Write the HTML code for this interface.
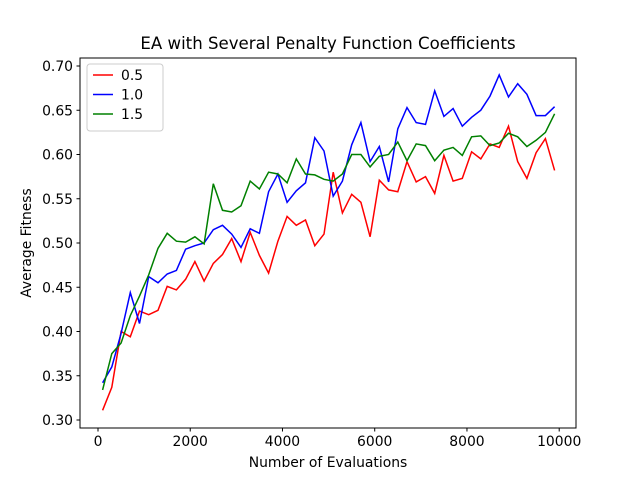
<!DOCTYPE html>
<html><head><meta charset="utf-8"><style>
body{margin:0;background:#fff}
svg text{font-family:"DejaVu Sans","Liberation Sans",sans-serif;fill:#000}
</style></head><body>
<svg width="640" height="480" xmlns="http://www.w3.org/2000/svg">
<rect width="640" height="480" fill="#fff"/>
<text x="328" y="49" font-size="16.6" text-anchor="middle">EA with Several Penalty Function Coefficients</text>
<g id="plot"></g>
<rect x="80" y="58" width="496" height="370" fill="none" stroke="#000" stroke-width="1"/>
<g id="xt"></g><g id="yt"></g>
<text x="328" y="467" font-size="13.9" text-anchor="middle">Number of Evaluations</text>
<text transform="translate(31,243) rotate(-90)" font-size="13.9" text-anchor="middle">Average Fitness</text>
<g>
<rect x="87" y="64" width="76" height="67" rx="3" fill="#fff" fill-opacity="0.8" stroke="#ccc"/>
<g id="leg"></g>
</g>
</svg>
<script>
const xValues=[];for(let i=0;i<50;i++)xValues.push(100+200*i);
const series05=[0.311,0.337,0.400,0.394,0.423,0.419,0.424,0.451,0.447,0.459,0.479,0.457,0.477,0.487,0.505,0.479,0.512,0.486,0.466,0.502,0.530,0.520,0.526,0.497,0.510,0.580,0.534,0.555,0.546,0.507,0.571,0.560,0.558,0.592,0.569,0.575,0.556,0.599,0.570,0.573,0.603,0.595,0.612,0.608,0.632,0.592,0.573,0.602,0.618,0.582];
const series10=[0.342,0.360,0.398,0.444,0.409,0.462,0.455,0.465,0.469,0.493,0.497,0.500,0.515,0.520,0.510,0.495,0.516,0.511,0.558,0.578,0.546,0.559,0.568,0.619,0.604,0.553,0.570,0.611,0.636,0.592,0.609,0.569,0.629,0.653,0.636,0.634,0.672,0.643,0.652,0.632,0.642,0.650,0.666,0.690,0.665,0.680,0.668,0.644,0.644,0.654];
const series15=[0.334,0.375,0.387,0.418,0.440,0.464,0.494,0.511,0.502,0.501,0.507,0.499,0.567,0.537,0.535,0.542,0.570,0.561,0.580,0.578,0.568,0.595,0.578,0.577,0.572,0.570,0.578,0.600,0.600,0.586,0.598,0.600,0.614,0.593,0.612,0.610,0.593,0.605,0.608,0.599,0.620,0.621,0.610,0.613,0.624,0.620,0.609,0.616,0.625,0.646];
const seriesLabels=["0.5","1.0","1.5"];
const xTicks=[0,2000,4000,6000,8000,10000];
const yTicks=[0.30,0.35,0.40,0.45,0.50,0.55,0.60,0.65,0.70];
const NS="http://www.w3.org/2000/svg";
const X=v=>98+v*0.04612;
const Y=v=>420-(v-0.30)*885;
function mk(t,a,p){const e=document.createElementNS(NS,t);for(const k in a)e.setAttribute(k,a[k]);p.appendChild(e);return e;}
const plot=document.getElementById('plot');
const colors=["#ff0000","#0000ff","#008000"];
const names=["line-0-5","line-1-0","line-1-5"];
[series05,series10,series15].forEach((s,i)=>{
 const p=mk('polyline',{points:s.map((v,j)=>X(xValues[j]).toFixed(1)+','+Y(v).toFixed(1)).join(' '),fill:'none',stroke:colors[i],'stroke-width':1.5},plot);
 
 
});
const xt=document.getElementById('xt');
xTicks.forEach(t=>{const x=X(t);
 mk('line',{x1:x,x2:x,y1:428,y2:431.5,stroke:'#000'},xt);
 const tx=mk('text',{x:x,y:446,'font-size':13.9,'text-anchor':'middle'},xt);tx.textContent=t;
 
 
});
const yt=document.getElementById('yt');
yTicks.forEach(t=>{const y=Y(t);
 mk('line',{x1:76.5,x2:80,y1:y,y2:y,stroke:'#000'},yt);
 const tx=mk('text',{x:73,y:y+5,'font-size':13.9,'text-anchor':'end'},yt);tx.textContent=t.toFixed(2);
 
 
});
const leg=document.getElementById('leg');
seriesLabels.forEach((l,i)=>{const y=75+i*19.5;
 mk('line',{x1:93,x2:113,y1:y,y2:y,stroke:colors[i],'stroke-width':1.5},leg);
 const tx=mk('text',{x:121,y:y+5,'font-size':13.9},leg);tx.textContent=l;
 
 
});
</script>
</body></html>
